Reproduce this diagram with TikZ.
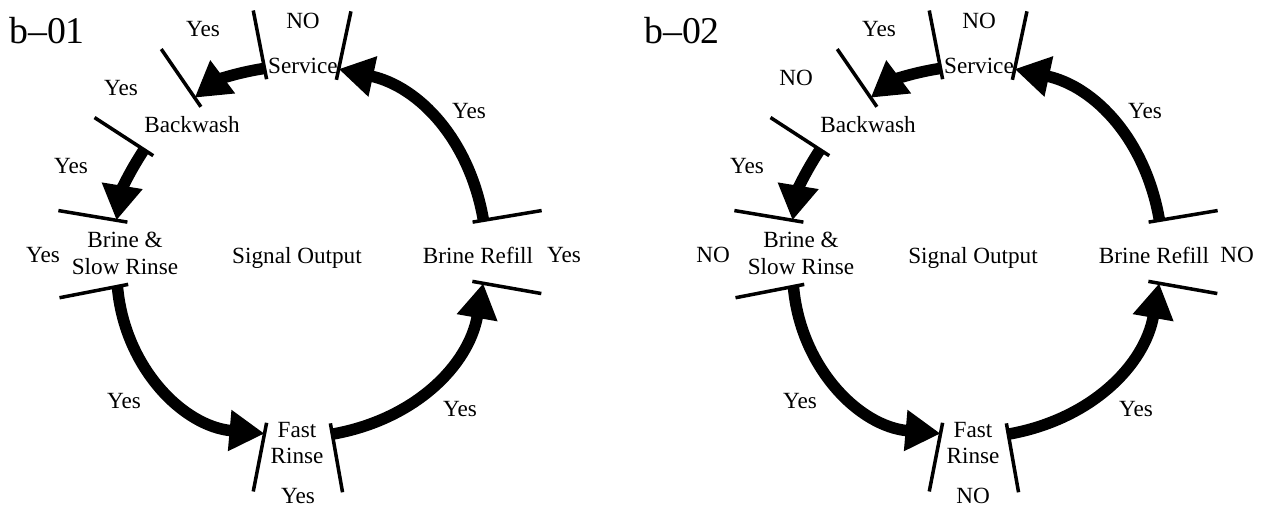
\documentclass[tikz,border=0pt]{standalone}
\usepackage{fontspec}
\setmainfont{Liberation Serif}
\usetikzlibrary{arrows.meta}

\begin{document}
\begin{tikzpicture}[
    bar/.style={line width=2pt},
    flow/.style={line width=0.23cm,-{Triangle[length=0.7cm,width=0.78cm]}},
    lbl/.style={font=\fontsize{13.2}{15}\selectfont,align=center,inner sep=0pt},
    ttl/.style={font=\fontsize{21.5}{24}\selectfont,inner sep=0pt}]
    \useasboundingbox (0,0) rectangle (25.32,10.14);
    % b-01
    \begin{scope}[shift={(6,5.12)}]
        \coordinate (lSvcIn) at (78:3.72);
        \coordinate (lSvcOut) at (101:3.72);
        \coordinate (lBwIn) at (124.5:3.72);
        \coordinate (lBwOut) at (147:3.72);
        \coordinate (lBrIn) at (170.5:3.72);
        \coordinate (lBrOut) at (191:3.72);
        \coordinate (lFrIn) at (259:3.72);
        \coordinate (lFrOut) at (280:3.72);
        \coordinate (lRfIn) at (350:3.72);
        \coordinate (lRfOut) at (9.5:3.72);
        \draw[bar] (78:3.5) -- (78:4.9);
        \draw[bar] (101:3.5) -- (101:4.9);
        \draw[bar] (124.5:3.5) -- (124.5:4.9);
        \draw[bar] (147:3.5) -- (147:4.9);
        \draw[bar] (170.5:3.5) -- (170.5:4.9);
        \draw[bar] (191:3.5) -- (191:4.9);
        \draw[bar] (259:3.5) -- (259:4.9);
        \draw[bar] (280:3.5) -- (280:4.9);
        \draw[bar] (350:3.5) -- (350:4.9);
        \draw[bar] (9.5:3.5) -- (9.5:4.9);
        \draw[flow] (lRfOut) to[bend right=34] (lSvcIn);
        \draw[flow] (lSvcOut) to[bend right=14] (lBwIn);
        \draw[flow] (lBwOut) to[bend right=12] (lBrIn);
        \draw[flow] (lBrOut) to[bend right=40] (lFrIn);
        \draw[flow] (lFrOut) to[bend right=35] (lRfIn);
        \node[ttl] (lTitle) at (-5.06,4.40) {b--01};
        \node[lbl] (lSvc) at (0.06,3.70) {Service};
        \node[lbl] (lSvcA) at (-1.94,4.44) {Yes};
        \node[lbl] (lSvcB) at (0.06,4.60) {NO};
        \node[lbl] (lBw) at (-2.16,2.52) {Backwash};
        \node[lbl] (lBwA) at (-3.58,3.26) {Yes};
        \node[lbl] (lBrA) at (-4.58,1.70) {Yes};
        \node[lbl] (lBr) at (-3.50,-0.05) {Brine \&\\Slow Rinse};
        \node[lbl] (lBrB) at (-5.14,-0.08) {Yes};
        \node[lbl] (lSig) at (-0.06,-0.13) {Signal Output};
        \node[lbl] (lRf) at (3.56,-0.08) {Brine Refill};
        \node[lbl] (lRfB) at (5.28,-0.08) {Yes};
        \node[lbl] (lRfA) at (3.38,2.80) {Yes};
        \node[lbl] (lFrA) at (-3.52,-3.00) {Yes};
        \node[lbl] (lFr) at (-0.06,-3.84) {Fast\\Rinse};
        \node[lbl] (lFrB) at (-0.04,-4.90) {Yes};
        \node[lbl] (lFrC) at (3.20,-3.16) {Yes};
    \end{scope}
    % b-02
    \begin{scope}[shift={(19.52,5.12)}]
        \coordinate (rSvcIn) at (78:3.72);
        \coordinate (rSvcOut) at (101:3.72);
        \coordinate (rBwIn) at (124.5:3.72);
        \coordinate (rBwOut) at (147:3.72);
        \coordinate (rBrIn) at (170.5:3.72);
        \coordinate (rBrOut) at (191:3.72);
        \coordinate (rFrIn) at (259:3.72);
        \coordinate (rFrOut) at (280:3.72);
        \coordinate (rRfIn) at (350:3.72);
        \coordinate (rRfOut) at (9.5:3.72);
        \draw[bar] (78:3.5) -- (78:4.9);
        \draw[bar] (101:3.5) -- (101:4.9);
        \draw[bar] (124.5:3.5) -- (124.5:4.9);
        \draw[bar] (147:3.5) -- (147:4.9);
        \draw[bar] (170.5:3.5) -- (170.5:4.9);
        \draw[bar] (191:3.5) -- (191:4.9);
        \draw[bar] (259:3.5) -- (259:4.9);
        \draw[bar] (280:3.5) -- (280:4.9);
        \draw[bar] (350:3.5) -- (350:4.9);
        \draw[bar] (9.5:3.5) -- (9.5:4.9);
        \draw[flow] (rRfOut) to[bend right=34] (rSvcIn);
        \draw[flow] (rSvcOut) to[bend right=14] (rBwIn);
        \draw[flow] (rBwOut) to[bend right=12] (rBrIn);
        \draw[flow] (rBrOut) to[bend right=40] (rFrIn);
        \draw[flow] (rFrOut) to[bend right=35] (rRfIn);
        \node[ttl] (rTitle) at (-5.88,4.40) {b--02};
        \node[lbl] (rSvc) at (0.06,3.70) {Service};
        \node[lbl] (rSvcA) at (-1.94,4.44) {Yes};
        \node[lbl] (rSvcB) at (0.06,4.60) {NO};
        \node[lbl] (rBw) at (-2.16,2.52) {Backwash};
        \node[lbl] (rBwA) at (-3.60,3.46) {NO};
        \node[lbl] (rBrA) at (-4.58,1.70) {Yes};
        \node[lbl] (rBr) at (-3.50,-0.05) {Brine \&\\Slow Rinse};
        \node[lbl] (rBrB) at (-5.26,-0.08) {NO};
        \node[lbl] (rSig) at (-0.06,-0.13) {Signal Output};
        \node[lbl] (rRf) at (3.56,-0.08) {Brine Refill};
        \node[lbl] (rRfB) at (5.22,-0.08) {NO};
        \node[lbl] (rRfA) at (3.38,2.80) {Yes};
        \node[lbl] (rFrA) at (-3.52,-3.00) {Yes};
        \node[lbl] (rFr) at (-0.06,-3.84) {Fast\\Rinse};
        \node[lbl] (rFrB) at (-0.06,-4.90) {NO};
        \node[lbl] (rFrC) at (3.20,-3.16) {Yes};
    \end{scope}
\end{tikzpicture}
\end{document}
